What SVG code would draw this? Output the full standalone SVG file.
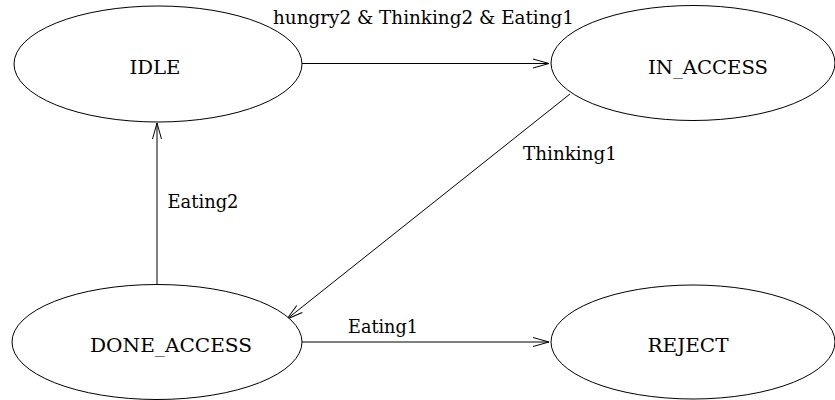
<svg xmlns="http://www.w3.org/2000/svg" width="835" height="400" viewBox="0 0 835 400">
  <style>
    .state { fill: #ffffff; stroke: #000000; stroke-width: 1; }
    .name { font-family: "DejaVu Serif", "Liberation Serif", serif; font-size: 19.4px; fill: #000000; text-anchor: middle; }
    .edge { fill: none; stroke: #000000; stroke-width: 1; }
    .guard { font-family: "DejaVu Serif", "Liberation Serif", serif; font-size: 19.4px; fill: #000000; }
  </style>
  <defs>
    <marker id="open-arrow" markerUnits="userSpaceOnUse" markerWidth="20" markerHeight="12" viewBox="-17 -6 18 12" refX="0" refY="0" orient="auto">
      <path d="M-16,-4.5 L0,0 L-16,4.5" fill="none" stroke="#000000" stroke-width="1"/>
    </marker>
  </defs>
  <rect width="835" height="400" fill="#ffffff"/>

  <g id="edges">
    <line class="edge" x1="302" y1="63.5" x2="549" y2="63.5" marker-end="url(#open-arrow)"/>
    <line class="edge" x1="570" y1="94" x2="287" y2="319" marker-end="url(#open-arrow)"/>
    <line class="edge" x1="157" y1="285" x2="157" y2="123" marker-end="url(#open-arrow)"/>
    <line class="edge" x1="302" y1="342" x2="549" y2="342" marker-end="url(#open-arrow)"/>
    <text class="guard" x="273" y="24" textLength="301" lengthAdjust="spacingAndGlyphs">hungry2 &amp; Thinking2 &amp; Eating1</text>
    <text class="guard" x="523" y="160" textLength="94" lengthAdjust="spacingAndGlyphs">Thinking1</text>
    <text class="guard" x="167.5" y="208" textLength="71" lengthAdjust="spacingAndGlyphs">Eating2</text>
    <text class="guard" x="348" y="333" textLength="70" lengthAdjust="spacingAndGlyphs">Eating1</text>
  </g>

  <g id="IDLE">
    <ellipse class="state" cx="158" cy="64" rx="144" ry="58"/>
    <text class="name" x="155" y="74" textLength="51" lengthAdjust="spacingAndGlyphs">IDLE</text>
  </g>
  <g id="IN_ACCESS">
    <ellipse class="state" cx="693" cy="63" rx="142" ry="57.5"/>
    <text class="name" x="708" y="74" textLength="120" lengthAdjust="spacingAndGlyphs">IN_ACCESS</text>
  </g>
  <g id="DONE_ACCESS">
    <ellipse class="state" cx="157" cy="342" rx="145" ry="57.5"/>
    <text class="name" x="171" y="352" textLength="162" lengthAdjust="spacingAndGlyphs">DONE_ACCESS</text>
  </g>
  <g id="REJECT">
    <ellipse class="state" cx="693" cy="342" rx="142" ry="57"/>
    <text class="name" x="688" y="352" textLength="81" lengthAdjust="spacingAndGlyphs">REJECT</text>
  </g>
</svg>
